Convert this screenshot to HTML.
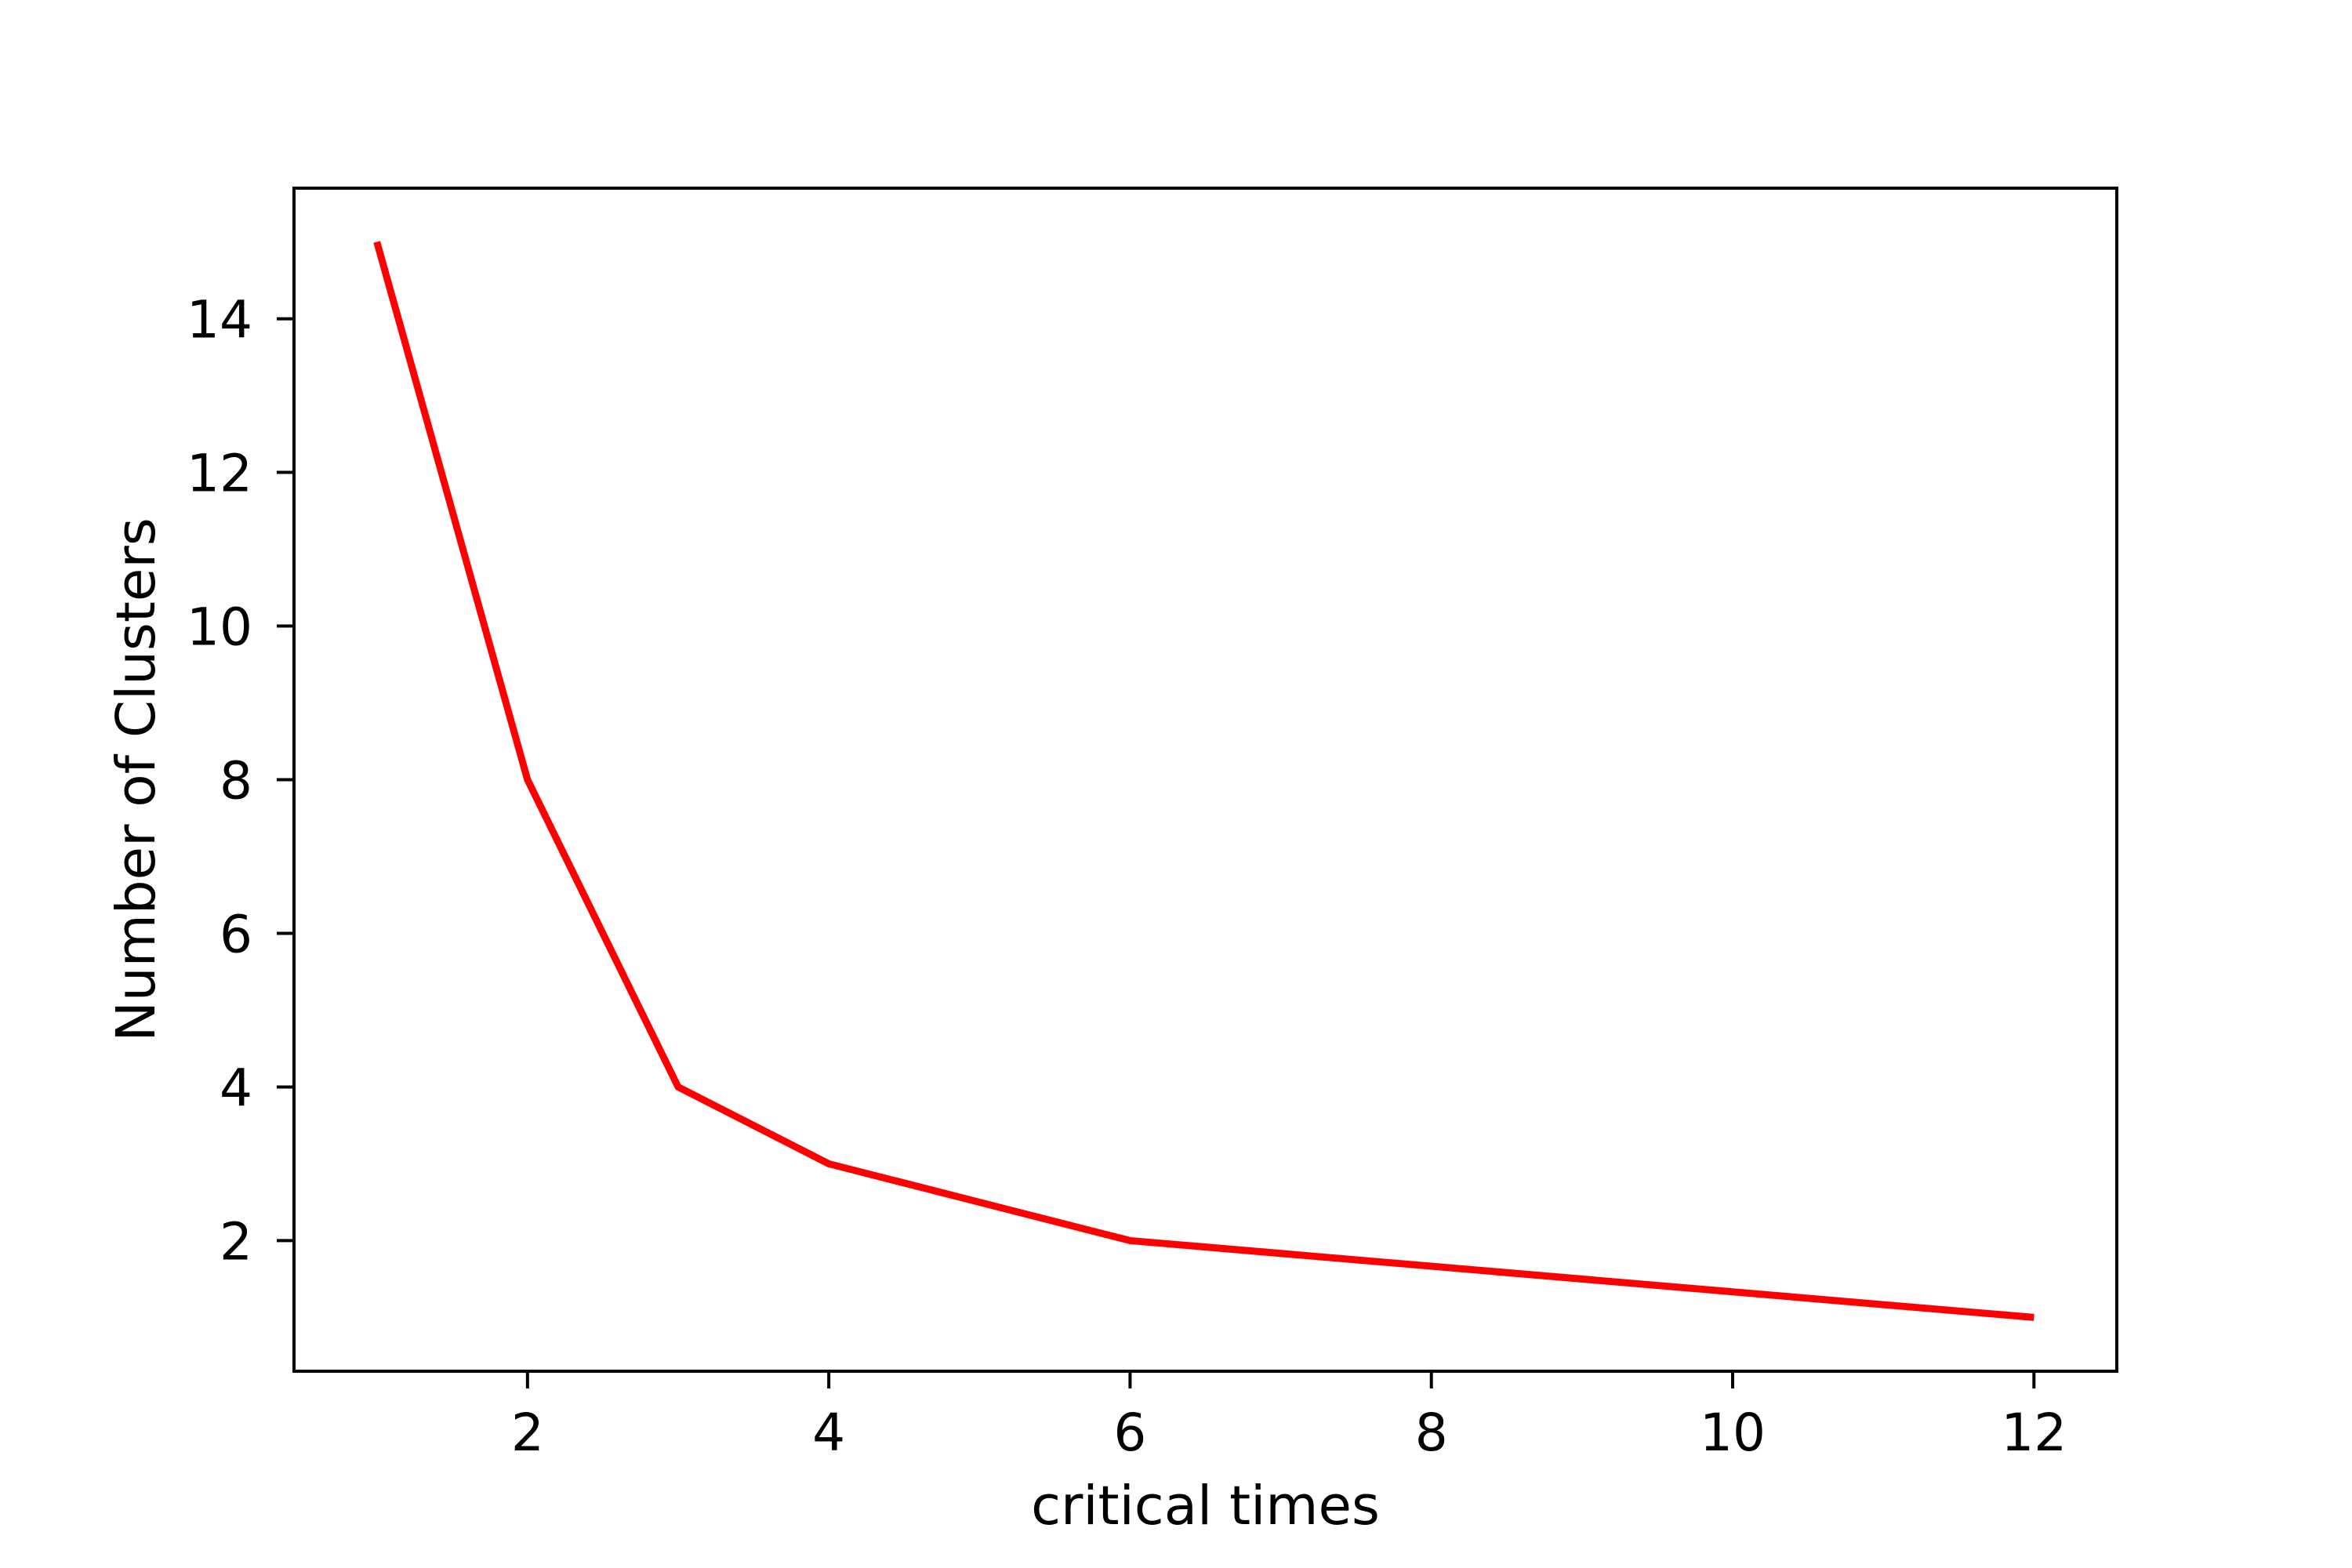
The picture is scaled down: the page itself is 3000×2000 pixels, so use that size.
<!DOCTYPE html>
<html><head><meta charset="utf-8"><style>html,body{margin:0;padding:0;background:#fff}svg{display:block}text{font-family:"DejaVu Sans","Liberation Sans",sans-serif;fill:#000}</style></head>
<body>
<svg id="chart" width="3000" height="2000" viewBox="0 0 3000 2000" xmlns="http://www.w3.org/2000/svg">
<rect width="3000" height="2000" fill="#fff"/>
<g id="plot"></g>
</svg>
<script>
const xValues = [1, 2, 3, 4, 6, 12];
const yValues = [15, 8, 4, 3, 2, 1];
const xTicks = [2, 4, 6, 8, 10, 12];
const yTicks = [2, 4, 6, 8, 10, 12, 14];
const xLabelText = "critical times";
const yLabelText = "Number of Clusters";

const L = 375, R = 2700, T = 240, B = 1749;
const xmin = 0.45, xmax = 12.55, ymin = 0.3, ymax = 15.7;
const sx = v => L + (v - xmin) / (xmax - xmin) * (R - L);
const sy = v => B - (v - ymin) / (ymax - ymin) * (B - T);
const NS = "http://www.w3.org/2000/svg";
const g = document.getElementById('plot');
function mk(tag, attrs, parent) {
  const e = document.createElementNS(NS, tag);
  for (const k in attrs) e.setAttribute(k, attrs[k]);
  (parent || g).appendChild(e);
  return e;
}

const line = mk('polyline', {points: xValues.map((x, i) => sx(x) + ',' + sy(yValues[i])).join(' '), fill: 'none', stroke: '#ff0000', 'stroke-width': 9, 'stroke-linejoin': 'round'});



const frame = mk('rect', {x: L, y: T, width: R - L, height: B - T, fill: 'none', stroke: '#000', 'stroke-width': 4});



xTicks.forEach(v => {
  const t = mk('line', {x1: sx(v), x2: sx(v), y1: B, y2: B + 22, stroke: '#000', 'stroke-width': 4});
  
  
  const lb = mk('text', {x: sx(v), y: 1850, 'font-size': 66, 'text-anchor': 'middle'});
  lb.textContent = v;
  
  
});
yTicks.forEach(v => {
  const t = mk('line', {x1: L - 22, x2: L, y1: sy(v), y2: sy(v), stroke: '#000', 'stroke-width': 4});
  
  
  const lb = mk('text', {x: 322, y: sy(v) + 24, 'font-size': 66, 'text-anchor': 'end'});
  lb.textContent = v;
  
  
});

const xl = mk('text', {x: (L + R) / 2, y: 1944, 'font-size': 69, 'text-anchor': 'middle'});
xl.textContent = xLabelText;



const yl = mk('text', {x: 0, y: 0, 'font-size': 69, 'text-anchor': 'middle', transform: 'translate(197,' + ((T + B) / 2) + ') rotate(-90)'});
yl.textContent = yLabelText;


</script>
</body></html>
